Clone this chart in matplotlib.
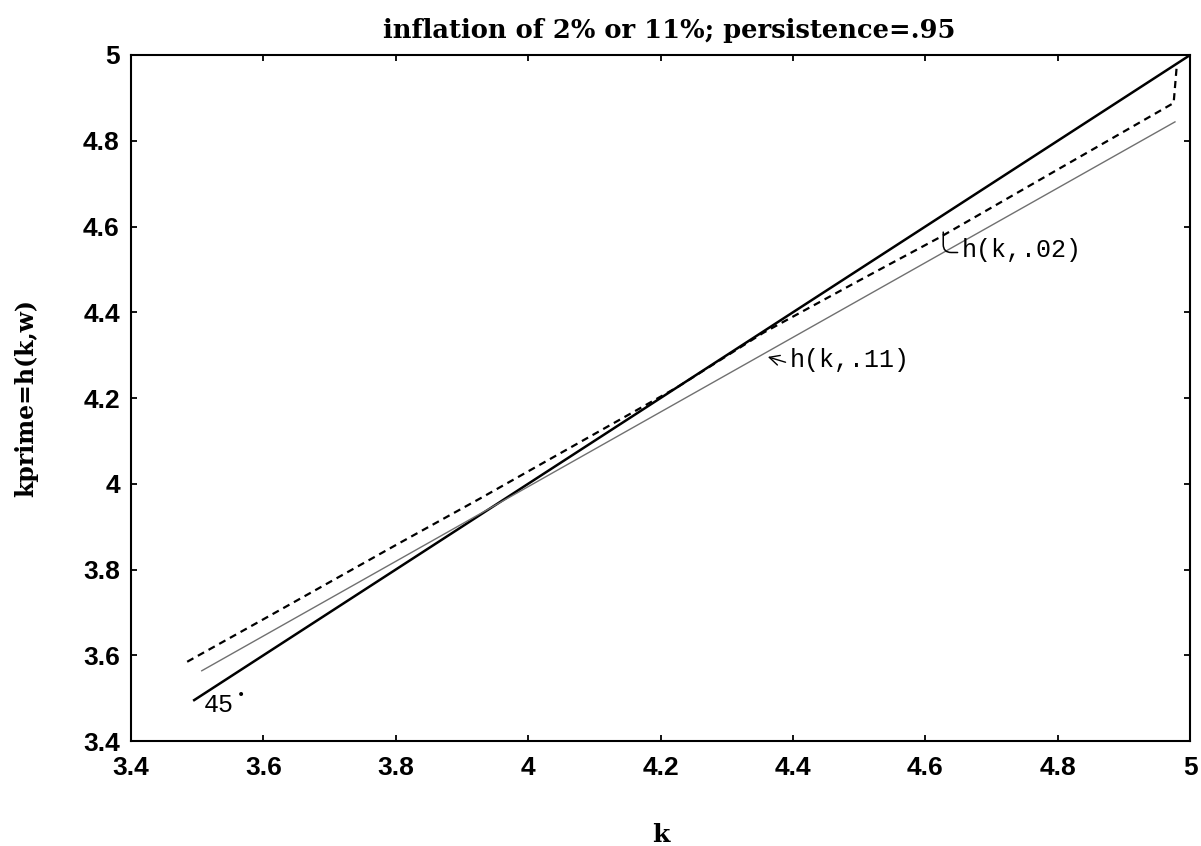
import numpy as np
import matplotlib
matplotlib.use("Agg")
import matplotlib.pyplot as plt

# values
k_45 = [3.494, 5.0]
h_45 = [3.494, 5.0]

# h(k,.02) - dashed policy function
k_02 = [3.485, 3.6, 3.8, 3.93, 4.0, 4.1, 4.225, 4.355, 4.5, 4.622, 4.8, 4.975, 4.98]
h_02 = [3.585, 3.684, 3.857, 3.968, 4.029, 4.116, 4.225, 4.352, 4.474, 4.575, 4.733, 4.888, 4.98]

# h(k,.11) - thin grey policy function
k_11 = [3.507, 4.977]
h_11 = [3.564, 4.844]

ticks = [3.4, 3.6, 3.8, 4.0, 4.2, 4.4, 4.6, 4.8, 5.0]
tick_labels = ["3.4", "3.6", "3.8", "4", "4.2", "4.4", "4.6", "4.8", "5"]

fig = plt.figure(figsize=(12.01, 8.46), dpi=100)
ax = fig.add_axes([0.109, 0.124, 0.882, 0.811])

ax.plot(k_45, h_45, color="black", lw=1.8, solid_capstyle="butt")
ax.plot(k_02, h_02, color="black", lw=1.6, linestyle=(0, (3.2, 2.3)))
ax.plot(k_11, h_11, color="#707070", lw=1.0)

ax.set_xlim(3.4, 5.0)
ax.set_ylim(3.4, 5.0)
ax.set_xticks(ticks)
ax.set_xticklabels(tick_labels)
ax.set_yticks(ticks)
ax.set_yticklabels(tick_labels)
ax.tick_params(direction="in", length=4, width=1.3, top=True, right=True,
               labelsize=19)
ax.tick_params(axis="x", pad=11)
ax.tick_params(axis="y", pad=8)
for lab in ax.get_xticklabels() + ax.get_yticklabels():
    lab.set_fontweight("bold")
    lab.set_family("Liberation Sans")
for sp in ax.spines.values():
    sp.set_linewidth(1.5)

serif = "DejaVu Serif"
ax.set_title("inflation of 2% or 11%; persistence=.95", family=serif,
             fontweight="bold", fontsize=18.5, pad=12, x=0.508)
ax.set_xlabel("k", family=serif, fontweight="bold", fontsize=18, labelpad=31)
ax.set_ylabel("kprime=h(k,w)", family=serif, fontweight="bold", fontsize=17,
              labelpad=32)

mono = "Liberation Mono"
ax.annotate("h(k,.02)", xy=(4.627, 4.587), xytext=(4.655, 4.545),
            family=mono, fontsize=18, va="center", ha="left",
            arrowprops=dict(arrowstyle="-", lw=1.1, color="black",
                            relpos=(0, 0.4),
                            connectionstyle="angle,angleA=180,angleB=90,rad=8",
                            shrinkA=1, shrinkB=0))
ax.annotate("h(k,.11)", xy=(4.362, 4.296), xytext=(4.395, 4.289),
            family=mono, fontsize=18, va="center", ha="left",
            arrowprops=dict(arrowstyle="->", lw=1.0, color="black",
                            relpos=(0, 0.35), shrinkA=1, shrinkB=0))
ax.text(3.51, 3.485, "45", family=mono, fontsize=18, va="center", ha="left")
ax.text(3.566, 3.508, "\u2022", family="DejaVu Sans", fontsize=10,
        va="center", ha="center")

fig.savefig("out.png", dpi=100, facecolor="white")
